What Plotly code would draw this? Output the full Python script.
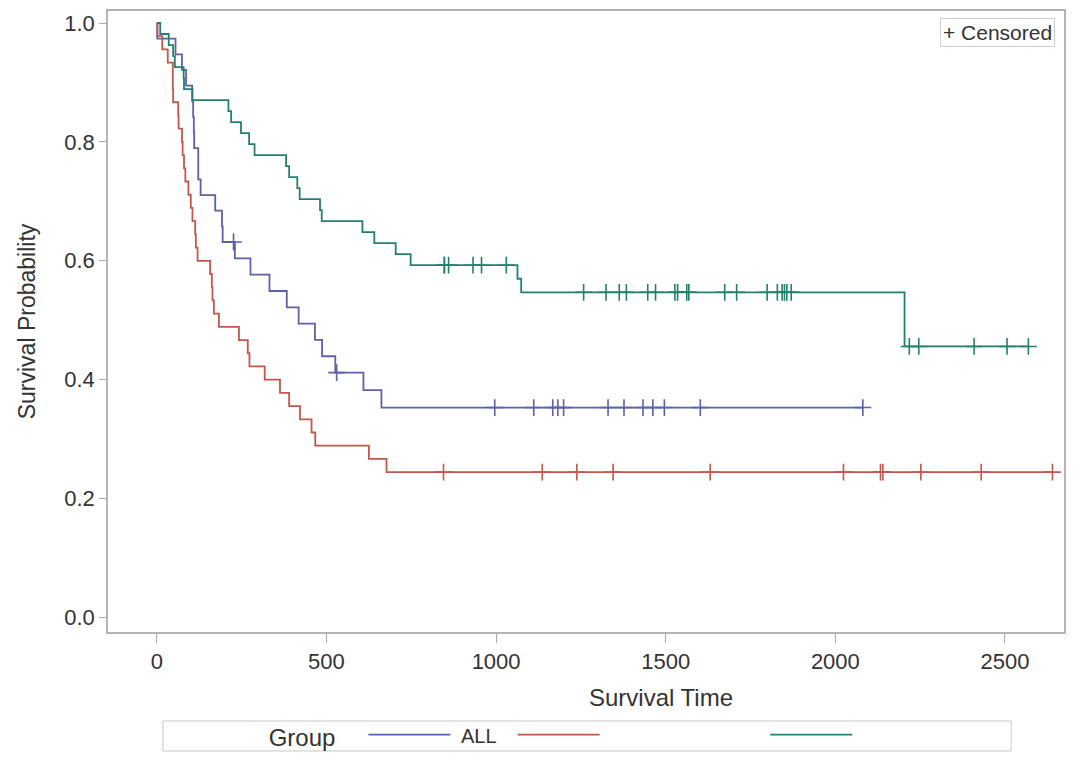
import plotly.graph_objects as go

# ---- data (Kaplan-Meier step values) ----
all_times = [0, 1, 55, 74, 86, 104, 107, 109, 110, 122, 129, 172, 192, 194, 230, 276, 332, 383, 418, 466, 487, 526, 609, 662, 2081]
all_surv = [1.0, 0.97368, 0.94737, 0.92105, 0.89474, 0.86842, 0.84211, 0.81579, 0.78947, 0.73684, 0.71053, 0.68421, 0.65789, 0.63158,
            0.60412, 0.57666, 0.54920, 0.52174, 0.49428, 0.46682, 0.43936, 0.41190, 0.38248, 0.35306, 0.35306]
all_cens_t = [226, 530, 996, 1111, 1167, 1182, 1199, 1330, 1377, 1433, 1462, 1496, 1602, 2081]
all_cens_s = [0.63158, 0.41190, 0.35306, 0.35306, 0.35306, 0.35306, 0.35306, 0.35306, 0.35306, 0.35306, 0.35306, 0.35306, 0.35306, 0.35306]

high_times = [0, 2, 16, 32, 47, 48, 63, 64, 74, 76, 80, 84, 93, 100, 105, 113, 115, 120, 157, 162, 164, 168, 183, 242, 268, 273,
              318, 363, 390, 422, 456, 467, 625, 677, 2640]
high_surv = [1.0, 0.97778, 0.95556, 0.93333, 0.88889, 0.86667, 0.84444, 0.82222, 0.80000, 0.77778, 0.75556, 0.73333, 0.71111,
             0.68889, 0.66667, 0.64444, 0.62222, 0.60000, 0.57778, 0.55556, 0.53333, 0.51111, 0.48889, 0.46667, 0.44444, 0.42222,
             0.40000, 0.37778, 0.35556, 0.33333, 0.31111, 0.28889, 0.26667, 0.24444, 0.24444]
high_cens_t = [845, 1136, 1238, 1345, 1631, 2024, 2133, 2140, 2252, 2430, 2640]
high_cens_s = [0.24444, 0.24444, 0.24444, 0.24444, 0.24444, 0.24444, 0.24444, 0.24444, 0.24444, 0.24444, 0.24444]

low_times = [0, 10, 35, 48, 53, 79, 80, 105, 211, 219, 248, 272, 288, 381, 390, 414, 421, 481, 486, 606, 641, 704, 748, 1063, 1074, 2204, 2569]
low_surv = [1.0, 0.98148, 0.96296, 0.94444, 0.92593, 0.90741, 0.88889, 0.87037, 0.85185, 0.83333, 0.81481, 0.79630, 0.77778,
            0.75926, 0.74074, 0.72222, 0.70370, 0.68519, 0.66667, 0.64815, 0.62963, 0.61111, 0.59259, 0.56980, 0.54701, 0.45584, 0.45584]
low_cens_t = [847, 848, 860, 932, 957, 1030, 1258, 1324, 1363, 1384, 1447, 1470, 1527, 1535, 1562, 1568, 1674, 1709, 1799, 1829,
              1843, 1850, 1857, 1870, 2218, 2246, 2409, 2506, 2569]
low_cens_s = [0.59259] * 6 + [0.54701] * 18 + [0.45584] * 5

group_names = ["ALL", "", ""]
colors = ["#5d62a8", "#c2574b", "#23806f"]
x_ticks = [0, 500, 1000, 1500, 2000, 2500]
y_ticks = [0.0, 0.2, 0.4, 0.6, 0.8, 1.0]

FONT = "Liberation Sans, Arial, sans-serif"
TXT = "#333333"
NB = "\u00a0"
# legend label padding (the reference's labels for two groups are blank)
legend_labels = [NB + group_names[0] + NB * 2, NB * 28, NB]

fig = go.Figure()
series = [
    (all_times, all_surv, all_cens_t, all_cens_s),
    (high_times, high_surv, high_cens_t, high_cens_s),
    (low_times, low_surv, low_cens_t, low_cens_s),
]
for i, (t, s, ct, cs) in enumerate(series):
    fig.add_trace(go.Scatter(x=t, y=s, mode="lines", line=dict(color=colors[i], width=1.8, shape="hv"),
                             name=legend_labels[i], showlegend=True))
for i, (t, s, ct, cs) in enumerate(series):
    fig.add_trace(go.Scatter(x=ct, y=cs, mode="markers", showlegend=False,
                             marker=dict(symbol="cross-thin", size=12, line=dict(color=colors[i], width=1.6))))

fig.update_layout(
    width=1073, height=766,
    margin=dict(l=108, r=7, t=11, b=134),
    paper_bgcolor="white", plot_bgcolor="white",
    font=dict(family=FONT, size=22, color=TXT),
    showlegend=True,
    legend=dict(orientation="h", x=0.1660, xanchor="left", y=-0.134, yanchor="top",
                title=dict(text="Group" + NB * 3, font=dict(size=24, color=TXT), side="left"),
                font=dict(size=20, color=TXT), itemwidth=82, valign="middle",
                borderwidth=0, bgcolor="rgba(0,0,0,0)"),
    xaxis=dict(range=[-144, 2674], tickvals=x_ticks, ticks="outside", ticklen=9, tickcolor="#aaaaaa",
               showgrid=False, zeroline=False, showline=True, linecolor="#b4b4b4", linewidth=1.5, mirror=True,
               tickfont=dict(size=22, color=TXT)),
    yaxis=dict(range=[-0.0245, 1.0202], tickvals=y_ticks, tickformat=".1f", ticks="outside", ticklen=7, tickcolor="#aaaaaa",
               showgrid=False, zeroline=False, showline=True, linecolor="#b4b4b4", linewidth=1.5, mirror=True,
               tickfont=dict(size=22, color=TXT),
               title=dict(text="Survival Probability", font=dict(size=23, color=TXT), standoff=22)),
    shapes=[dict(type="rect", xref="paper", yref="paper", x0=0.0574, x1=0.9447, y0=-0.1916, y1=-0.1433,
                 line=dict(color="#c8c8c8", width=1), fillcolor="rgba(0,0,0,0)", layer="below")],
)
fig.add_annotation(text="Survival Time", xref="paper", yref="paper", x=0.578, y=-0.106,
                   xanchor="center", yanchor="middle", showarrow=False, font=dict(size=24, color=TXT))
fig.add_annotation(text="+ Censored", xref="paper", yref="paper", x=0.9906, y=0.9887,
                   xanchor="right", yanchor="top", showarrow=False, font=dict(size=21, color=TXT),
                   bordercolor="#d0d0d0", borderwidth=1, borderpad=2, bgcolor="white")

fig.write_html("out.html", config={"displayModeBar": False},
               post_script="document.body.style.margin='0px';")
